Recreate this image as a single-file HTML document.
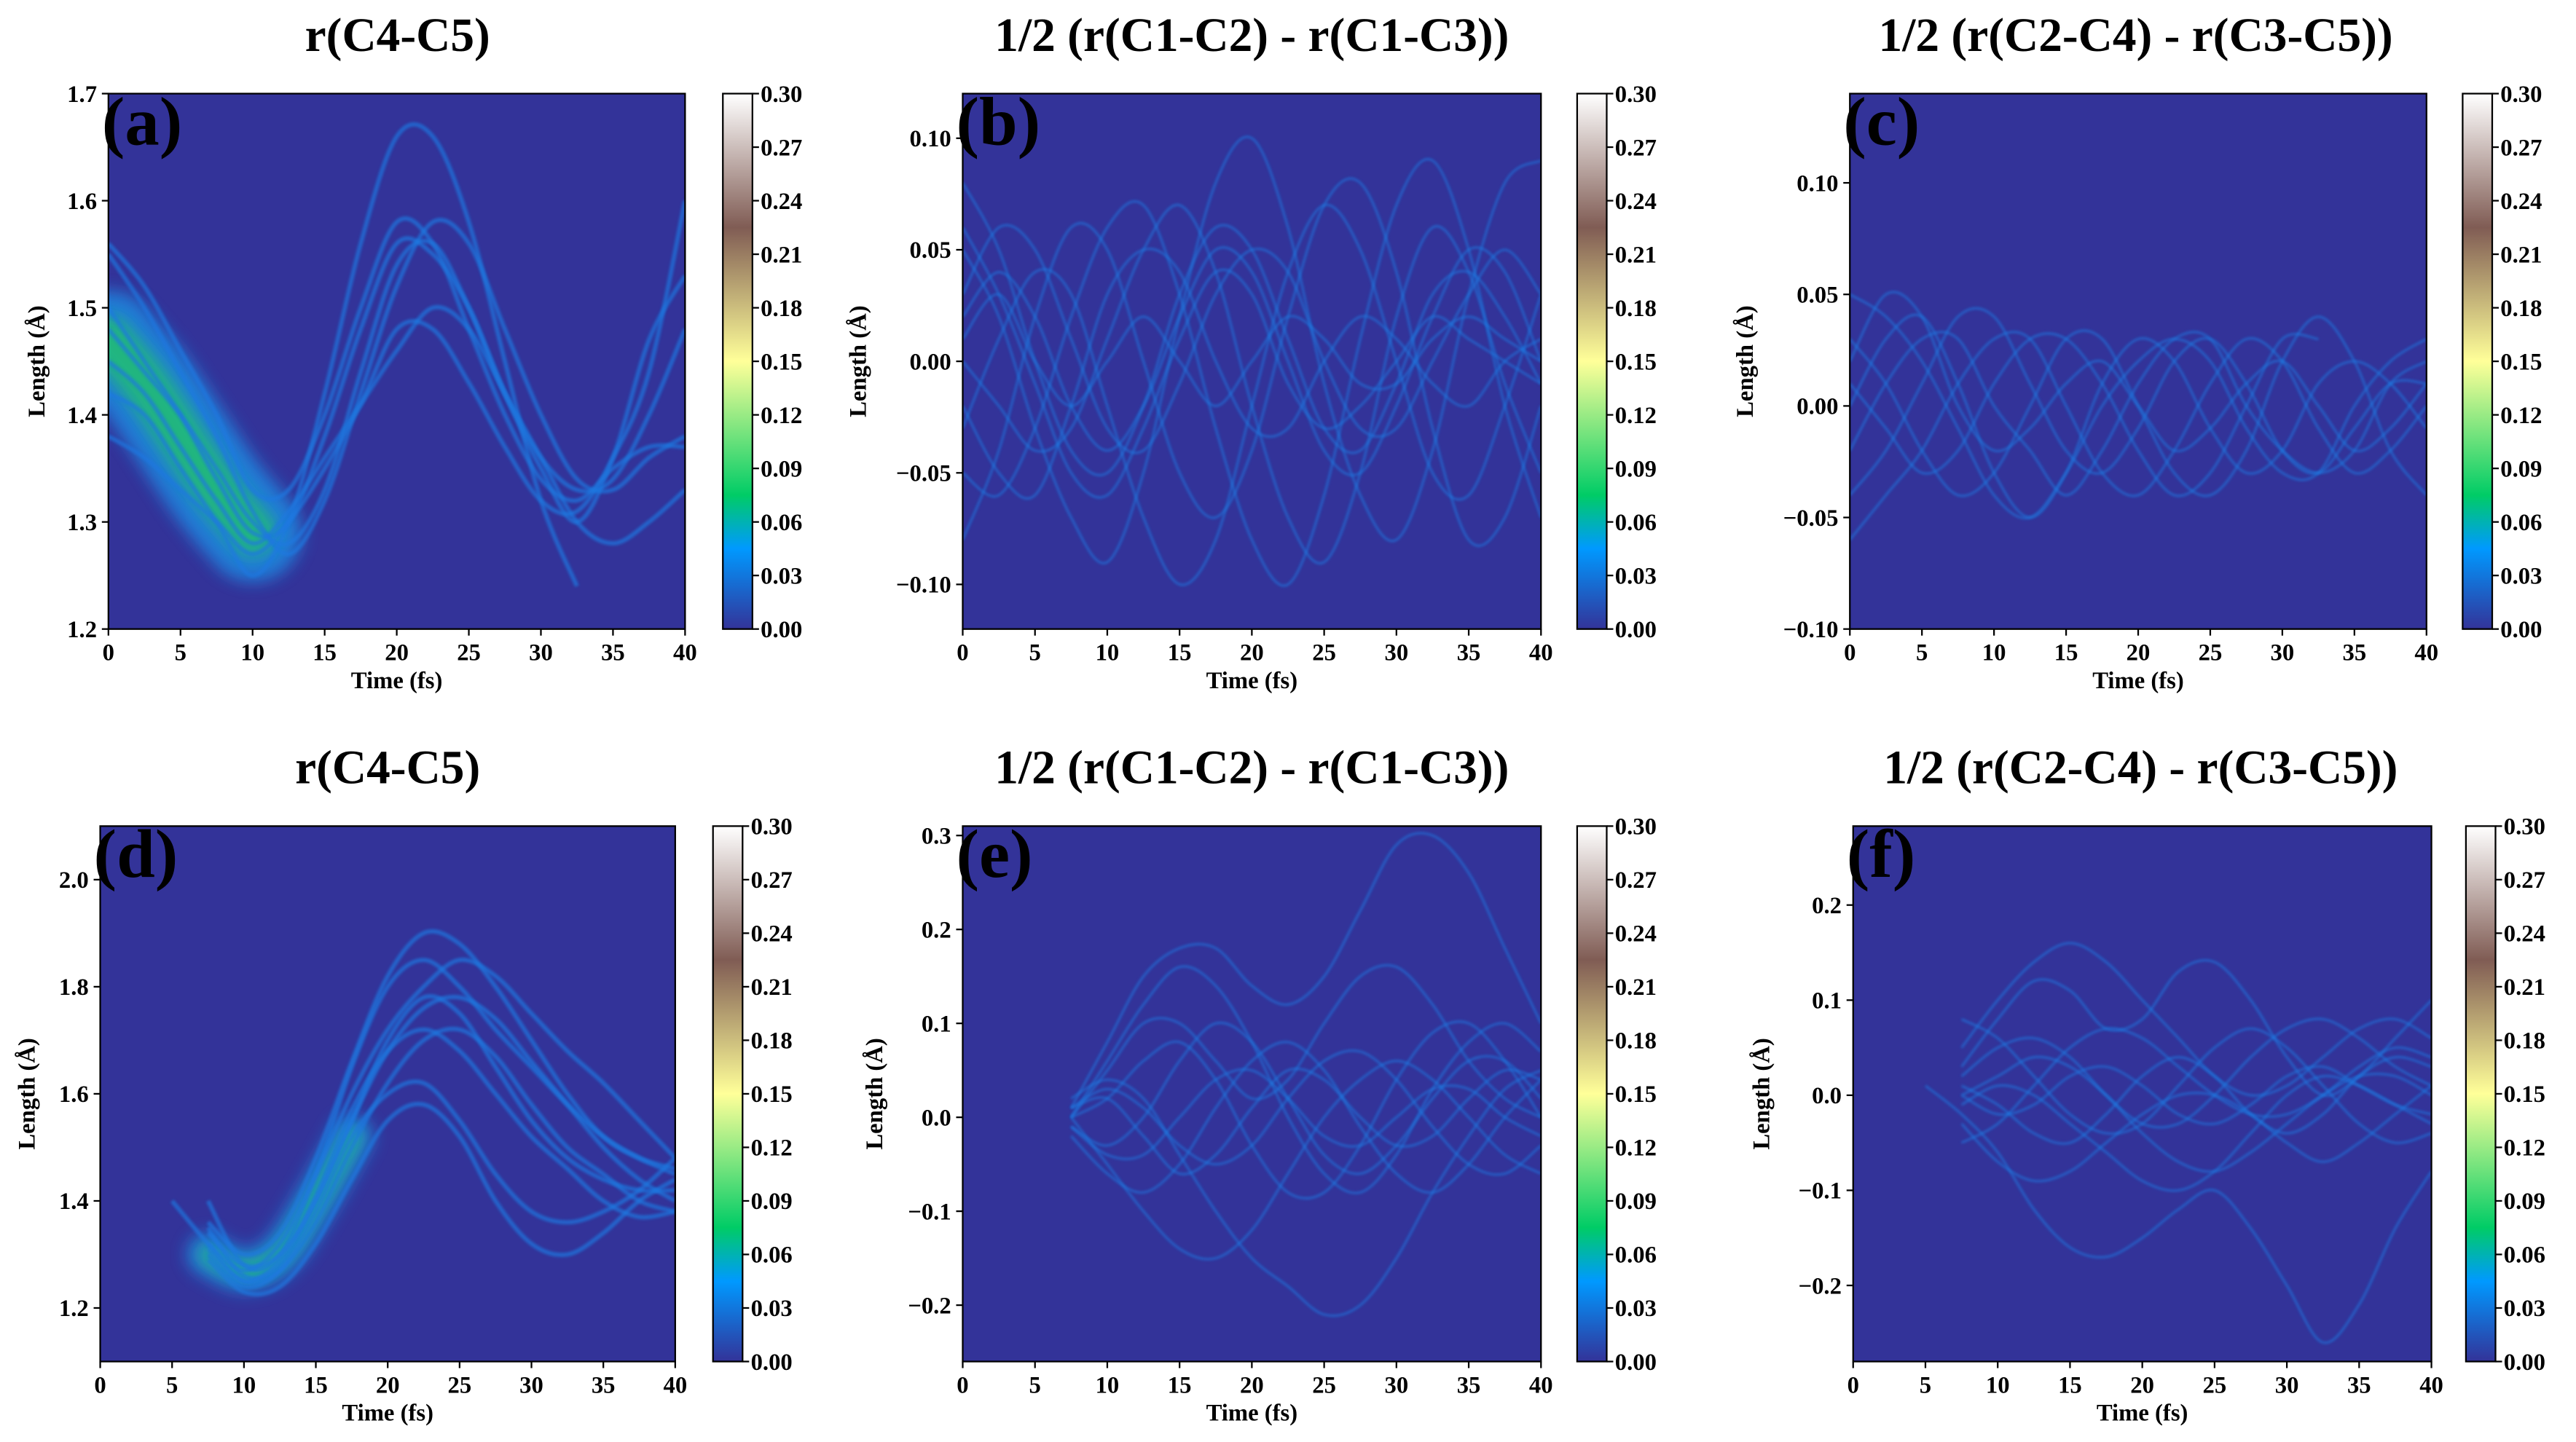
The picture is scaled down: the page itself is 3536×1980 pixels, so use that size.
<!DOCTYPE html>
<html><head><meta charset="utf-8"><style>
html,body{margin:0;padding:0;background:#fff;}
svg{display:block;}
text{font-family:"Liberation Serif","DejaVu Serif",serif;font-weight:bold;fill:#000;}
</style></head><body>
<svg id="fig" width="3536" height="1980" viewBox="0 0 1568 878" preserveAspectRatio="none" xmlns="http://www.w3.org/2000/svg">
<defs>
<linearGradient id="terrain" x1="0" y1="1" x2="0" y2="0">
<stop offset="0" stop-color="#333399"/><stop offset="0.15" stop-color="#0099ff"/><stop offset="0.25" stop-color="#00cc66"/><stop offset="0.5" stop-color="#ffff99"/><stop offset="0.75" stop-color="#805c54"/><stop offset="1" stop-color="#ffffff"/>
</linearGradient>
<filter id="blur" filterUnits="userSpaceOnUse" x="0" y="0" width="1568" height="878"><feGaussianBlur stdDeviation="0.8"/></filter>
<filter id="blur2" filterUnits="userSpaceOnUse" x="0" y="0" width="1568" height="878"><feGaussianBlur stdDeviation="5"/></filter>
</defs>
</svg>
<script>
const timeSamples=[0,2.5,5,7.5,10,12.5,15,17.5,20,22.5,25,27.5,30,32.5,35,37.5,40];
const xTicks=[0,5,10,15,20,25,30,35,40];
const cbTicks=["0.00","0.03","0.06","0.09","0.12","0.15","0.18","0.21","0.24","0.27","0.30"];
const titles=["r(C4-C5)","1/2 (r(C1-C2) - r(C1-C3))","1/2 (r(C2-C4) - r(C3-C5))","r(C4-C5)","1/2 (r(C1-C2) - r(C1-C3))","1/2 (r(C2-C4) - r(C3-C5))"];
const letters=["(a)","(b)","(c)","(d)","(e)","(f)"];
const yTicksA=["1.2","1.3","1.4","1.5","1.6","1.7"];
const yTicksB=["-0.10","-0.05","0.00","0.05","0.10"];
const yTicksC=["-0.10","-0.05","0.00","0.05","0.10"];
const yTicksD=["1.2","1.4","1.6","1.8","2.0"];
const yTicksE=["-0.2","-0.1","0.0","0.1","0.2","0.3"];
const yTicksF=["-0.2","-0.1","0.0","0.1","0.2"];
const yRangeA=[1.2,1.7], yRangeB=[-0.12,0.12], yRangeC=[-0.10,0.14], yRangeD=[1.1,2.1], yRangeE=[-0.26,0.31], yRangeF=[-0.28,0.283];
const N=null;
const curvesA=[
[1.55,1.50,1.44,1.38,1.31,1.27,1.32,1.42,1.52,1.58,1.56,1.48,1.40,1.34,1.33,1.36,1.38],
[1.50,1.45,1.40,1.34,1.29,1.30,1.38,1.48,1.56,1.55,1.50,1.42,1.36,1.33,1.34,1.40,1.48],
[1.45,1.42,1.37,1.32,1.28,1.31,1.36,1.41,1.46,1.50,1.48,1.42,1.36,1.30,1.28,1.30,1.33],
[1.42,1.40,1.35,1.30,1.25,1.30,1.42,1.56,1.66,1.66,1.58,1.45,1.32,1.24,N,N,N],
[1.48,1.44,1.40,1.35,1.30,1.28,1.33,1.44,1.54,1.56,1.50,1.42,1.35,1.30,1.36,1.47,1.53],
[1.38,1.36,1.33,1.30,1.27,1.30,1.35,1.41,1.48,1.48,1.43,1.37,1.32,1.31,1.36,1.44,1.60],
[1.56,1.52,1.46,1.40,1.33,1.33,1.40,1.50,1.58,1.56,1.48,1.40,1.34,1.32,1.35,1.37,1.37]];
const bandA=[1.47,1.43,1.38,1.33,1.29];
const curvesB=[
[0.05,0.02,-0.03,-0.07,-0.09,-0.05,0.02,0.08,0.10,0.06,-0.01,-0.06,-0.08,-0.04,0.03,0.08,0.09],
[-0.03,0.01,0.04,0.03,-0.02,-0.07,-0.10,-0.08,-0.02,0.04,0.07,0.05,0.00,-0.05,-0.06,-0.02,0.03],
[0.02,0.04,0.02,-0.02,-0.04,-0.02,0.02,0.05,0.04,0.00,-0.04,-0.05,-0.02,0.02,0.05,0.04,0.00],
[-0.05,-0.06,-0.03,0.02,0.06,0.07,0.03,-0.03,-0.08,-0.10,-0.06,0.01,0.07,0.09,0.05,-0.02,-0.07],
[0.08,0.05,0.00,-0.04,-0.05,-0.02,0.03,0.06,0.05,0.01,-0.03,-0.04,-0.01,0.03,0.04,0.02,-0.01],
[0.00,-0.02,-0.04,-0.03,0.01,0.05,0.07,0.04,-0.02,-0.07,-0.09,-0.05,0.02,0.06,0.04,-0.01,-0.05],
[-0.08,-0.04,0.02,0.06,0.05,0.00,-0.05,-0.07,-0.04,0.02,0.07,0.08,0.04,-0.03,-0.08,-0.07,-0.02],
[0.03,0.06,0.05,0.01,-0.03,-0.04,-0.01,0.03,0.05,0.04,0.00,-0.03,-0.03,0.00,0.03,0.05,0.03],
[-0.02,-0.05,-0.06,-0.02,0.03,0.05,0.04,0.00,-0.03,-0.03,0.00,0.02,0.01,-0.01,-0.02,0.00,0.01],
[0.06,0.03,-0.01,-0.05,-0.06,-0.03,0.01,0.04,0.03,-0.01,-0.03,-0.02,0.00,0.02,0.01,0.00,-0.01],
[0.01,0.03,0.00,-0.02,0.00,0.02,0.00,-0.02,0.00,0.02,0.01,-0.01,-0.01,0.01,0.02,0.01,0.00]];
const curvesC=[
[0.00,0.03,0.04,0.01,-0.03,-0.05,-0.03,0.01,0.03,0.02,-0.01,-0.03,-0.02,0.01,0.02,0.01,-0.01],
[-0.04,-0.02,0.01,0.04,0.04,0.01,-0.02,-0.03,-0.01,0.02,0.03,0.01,-0.02,-0.03,-0.01,0.01,0.01],
[0.03,0.01,-0.02,-0.04,-0.03,0.00,0.03,0.03,0.00,-0.03,-0.04,-0.02,0.02,0.04,0.02,-0.02,-0.04],
[-0.06,-0.04,-0.02,0.01,0.03,0.03,0.00,-0.03,-0.04,-0.02,0.01,0.03,0.02,-0.01,-0.03,-0.02,0.00],
[0.05,0.04,0.02,-0.01,-0.04,-0.05,-0.03,0.00,0.02,0.03,0.02,-0.01,-0.03,-0.03,0.00,0.02,0.03],
[0.01,-0.01,-0.03,-0.02,0.01,0.03,0.03,0.01,-0.02,-0.04,-0.03,0.00,0.03,0.03,N,N,N],
[-0.02,0.01,0.03,0.03,0.00,-0.02,-0.04,-0.02,0.01,0.03,0.03,0.00,-0.02,-0.03,-0.02,0.01,0.02],
[0.02,0.05,0.04,0.00,-0.02,-0.01,0.01,0.02,0.00,-0.02,-0.01,0.01,0.02,0.00,-0.02,-0.01,0.01]];
const curvesD=[
[N,N,N,1.40,1.28,1.30,1.45,1.65,1.80,1.85,1.80,1.72,1.65,1.58,1.52,1.48,1.45],
[N,N,N,1.35,1.26,1.28,1.40,1.55,1.70,1.78,1.75,1.65,1.55,1.48,1.44,1.42,1.42],
[N,N,1.40,1.32,1.25,1.27,1.36,1.50,1.62,1.70,1.72,1.67,1.58,1.50,1.45,1.40,1.38],
[N,N,N,1.30,1.24,1.27,1.38,1.52,1.60,1.62,1.55,1.45,1.38,1.36,1.38,1.42,1.48],
[N,N,N,1.32,1.27,1.32,1.45,1.60,1.72,1.80,1.85,1.82,1.75,1.68,1.62,1.55,1.48],
[N,N,N,1.36,1.30,1.34,1.48,1.66,1.82,1.90,1.88,1.80,1.70,1.60,1.52,1.48,1.46],
[N,N,N,1.29,1.23,1.24,1.32,1.44,1.55,1.58,1.52,1.40,1.32,1.30,1.34,1.40,1.44],
[N,N,N,1.31,1.25,1.29,1.41,1.57,1.68,1.72,1.68,1.60,1.52,1.46,1.40,1.37,1.38],
[N,N,N,1.34,1.28,1.30,1.40,1.55,1.68,1.76,1.78,1.74,1.66,1.58,1.50,1.44,1.40]];
const bandD=[1.30,1.27,1.30,1.40,1.52];
const curvesE=[
[N,N,N,0.00,0.06,0.12,0.16,0.14,0.08,0.00,-0.06,-0.08,-0.04,0.03,0.08,0.10,0.07],
[N,N,N,0.00,-0.05,-0.10,-0.14,-0.15,-0.12,-0.06,0.00,0.04,0.06,0.04,0.00,-0.04,-0.06],
[N,N,N,0.02,0.04,0.02,-0.04,-0.10,-0.15,-0.18,-0.21,-0.20,-0.15,-0.08,-0.02,0.03,0.05],
[N,N,N,0.01,0.08,0.15,0.18,0.18,0.14,0.12,0.15,0.22,0.29,0.30,0.26,0.18,0.10],
[N,N,N,-0.01,-0.03,0.00,0.06,0.10,0.08,0.02,-0.04,-0.06,-0.03,0.02,0.06,0.06,0.02],
[N,N,N,0.00,0.02,0.06,0.08,0.04,-0.03,-0.08,-0.08,-0.03,0.04,0.09,0.10,0.06,0.00],
[N,N,N,-0.02,-0.06,-0.08,-0.05,0.01,0.06,0.08,0.05,-0.01,-0.06,-0.08,-0.05,0.00,0.04],
[N,N,N,0.01,0.03,0.01,-0.03,-0.05,-0.03,0.02,0.06,0.07,0.04,-0.01,-0.05,-0.06,-0.03],
[N,N,N,0.00,0.05,0.10,0.10,0.06,0.02,0.04,0.10,0.15,0.16,0.12,0.06,0.02,0.00],
[N,N,N,-0.01,-0.04,-0.04,0.00,0.04,0.05,0.02,-0.02,-0.03,0.00,0.03,0.03,0.00,-0.02],
[N,N,N,0.01,0.02,-0.02,-0.06,-0.04,0.01,0.05,0.04,0.00,-0.03,-0.02,0.02,0.05,0.04]];
const curvesF=[
[N,N,N,0.05,0.10,0.14,0.16,0.14,0.10,0.06,0.02,0.00,0.01,0.04,0.07,0.08,0.06],
[N,N,N,-0.03,-0.07,-0.09,-0.08,-0.05,-0.02,0.00,0.00,-0.02,-0.05,-0.07,-0.05,-0.02,0.01],
[N,N,0.01,-0.02,-0.06,-0.12,-0.16,-0.17,-0.15,-0.12,-0.10,-0.14,-0.20,-0.26,-0.22,-0.14,-0.08],
[N,N,N,0.02,0.05,0.06,0.04,0.00,-0.03,-0.03,0.00,0.04,0.07,0.08,0.06,0.03,0.01],
[N,N,N,0.00,0.02,0.04,0.03,0.00,-0.04,-0.07,-0.08,-0.06,-0.03,0.00,0.02,0.02,0.00],
[N,N,N,-0.05,-0.03,0.01,0.05,0.07,0.06,0.03,0.00,-0.02,-0.02,0.00,0.03,0.05,0.04],
[N,N,N,0.08,0.06,0.02,-0.02,-0.04,-0.03,0.01,0.05,0.07,0.05,0.01,-0.03,-0.05,-0.04],
[N,N,N,-0.01,0.01,0.00,-0.03,-0.06,-0.09,-0.10,-0.08,-0.04,0.00,0.02,0.01,-0.01,-0.03],
[N,N,N,0.03,0.08,0.12,0.11,0.07,0.08,0.13,0.14,0.10,0.04,0.00,0.02,0.06,0.10],
[N,N,N,0.00,-0.02,-0.01,0.02,0.03,0.01,-0.02,-0.03,-0.01,0.02,0.03,0.01,-0.01,-0.02],
[N,N,N,0.01,-0.01,-0.04,-0.05,-0.02,0.02,0.04,0.02,-0.02,-0.04,-0.02,0.02,0.04,0.03]];

const NS="http://www.w3.org/2000/svg";
const svg=document.getElementById('fig');
function el(tag,attrs,parent){const e=document.createElementNS(NS,tag);for(const k in attrs)e.setAttribute(k,attrs[k]);(parent||svg).appendChild(e);return e;}

const panels=[
{box:[66,57,417,383],cb:440,titleX:242,titleY:31,ylx:27,range:yRangeA,ticks:yTicksA,curves:curvesA,band:bandA,bandStart:0,name:'a'},
{box:[586,57,938,383],cb:960,titleX:762,titleY:31,ylx:527,range:yRangeB,ticks:yTicksB,curves:curvesB,name:'b'},
{box:[1126,57,1477,383],cb:1499,titleX:1300,titleY:31,ylx:1067,range:yRangeC,ticks:yTicksC,curves:curvesC,name:'c'},
{box:[61,503,411,829],cb:434,titleX:236,titleY:477,ylx:21,range:yRangeD,ticks:yTicksD,curves:curvesD,band:bandD,bandStart:3,name:'d'},
{box:[586,503,938,829],cb:960,titleX:762,titleY:477,ylx:537,range:yRangeE,ticks:yTicksE,curves:curvesE,name:'e'},
{box:[1128,503,1480,829],cb:1501,titleX:1303,titleY:477,ylx:1077,range:yRangeF,ticks:yTicksF,curves:curvesF,name:'f'}];

function smoothPath(pts){
  if(pts.length<2)return '';
  let d='M'+pts[0][0]+','+pts[0][1];
  for(let i=0;i<pts.length-1;i++){
    const p0=pts[Math.max(0,i-1)],p1=pts[i],p2=pts[i+1],p3=pts[Math.min(pts.length-1,i+2)];
    const c1=[p1[0]+(p2[0]-p0[0])/6,p1[1]+(p2[1]-p0[1])/6];
    const c2=[p2[0]-(p3[0]-p1[0])/6,p2[1]-(p3[1]-p1[1])/6];
    d+=' C'+c1[0]+','+c1[1]+' '+c2[0]+','+c2[1]+' '+p2[0]+','+p2[1];
  }
  return d;
}

panels.forEach((p,idx)=>{
  const [x0,y0,x1,y1]=p.box;
  const xS=t=>x0+(t-0)/(40-0)*(x1-x0);
  const yS=v=>y1-(v-p.range[0])/(p.range[1]-p.range[0])*(y1-y0);
  const g=el('g',{});
  
  
  const cp=el('clipPath',{id:'clip'+idx},g);
  el('rect',{x:x0,y:y0,width:x1-x0,height:y1-y0},cp);
  const bg=el('rect',{x:x0,y:y0,width:x1-x0,height:y1-y0,fill:'#333399'},g);
  
  
  const plot=el('g',{'clip-path':'url(#clip'+idx+')'},g);
  if(p.band){
    const pts=p.band.map((v,i)=>[xS(timeSamples[i+p.bandStart]),yS(v)]);
    const b1=el('path',{d:smoothPath(pts),fill:'none',stroke:'#1a8fe6','stroke-width':(idx==0?60:26),'stroke-linecap':'round',opacity:0.8,filter:'url(#blur2)'},plot);
    
    
    const b2=el('path',{d:smoothPath(pts),fill:'none',stroke:'#22c46a','stroke-width':(idx==0?28:10),'stroke-linecap':'round',opacity:0.8,filter:'url(#blur2)'},plot);
    
    
  }
  p.curves.forEach((c,ci)=>{
    const segs=[];let cur=[];
    c.forEach((v,i)=>{if(v===null){if(cur.length)segs.push(cur);cur=[];}else cur.push([xS(timeSamples[i]),yS(v)]);});
    if(cur.length)segs.push(cur);
    segs.forEach(s=>{
      const path=el('path',{d:smoothPath(s),fill:'none',stroke:'#1f78e0','stroke-width':(idx==0||idx==3)?2.6:1.3,opacity:0.7,filter:'url(#blur)'},plot);
      
      
    });
  });
  el('rect',{x:x0,y:y0,width:x1-x0,height:y1-y0,fill:'none',stroke:'#000','stroke-width':1},g);
  xTicks.forEach(t=>{
    el('line',{x1:xS(t),x2:xS(t),y1:y1,y2:y1+4,stroke:'#000','stroke-width':1},g);
    const tx=el('text',{x:xS(t),y:y1+19,'text-anchor':'middle','font-size':14.5},g);
    tx.textContent=t;
    
    
  });
  p.ticks.forEach(s=>{
    const v=parseFloat(s);
    el('line',{x1:x0-4,x2:x0,y1:yS(v),y2:yS(v),stroke:'#000','stroke-width':1},g);
    const tx=el('text',{x:x0-7,y:yS(v)+5,'text-anchor':'end','font-size':14.5},g);
    tx.textContent=s.replace('-','\u2212');
    
    
  });
  const xl=el('text',{x:(x0+x1)/2,y:y1+36,'text-anchor':'middle','font-size':14.5},g);
  xl.textContent='Time (fs)';
  
  
  const yl=el('text',{x:p.ylx,y:(y0+y1)/2,'text-anchor':'middle','font-size':14.5,transform:'rotate(-90 '+p.ylx+' '+(y0+y1)/2+')'},g);
  yl.textContent='Length (\u00c5)';
  
  
  const ti=el('text',{x:p.titleX,y:p.titleY,'text-anchor':'middle','font-size':29},g);
  ti.textContent=titles[idx];
  
  
  const le=el('text',{x:x0-4,y:y0+31,'font-size':42},g);
  le.textContent=letters[idx];
  
  
  const cb=el('rect',{x:p.cb,y:y0,width:18,height:y1-y0,fill:'url(#terrain)',stroke:'#000','stroke-width':1},g);
  
  
  cbTicks.forEach((s,i)=>{
    const yy=y1-(parseFloat(s)/0.30)*(y1-y0);
    el('line',{x1:p.cb+18,x2:p.cb+22,y1:yy,y2:yy,stroke:'#000','stroke-width':1},g);
    const tx=el('text',{x:p.cb+23,y:yy+5,'font-size':14.5},g);
    tx.textContent=s;
    
    
  });
});
</script>
</body></html>
